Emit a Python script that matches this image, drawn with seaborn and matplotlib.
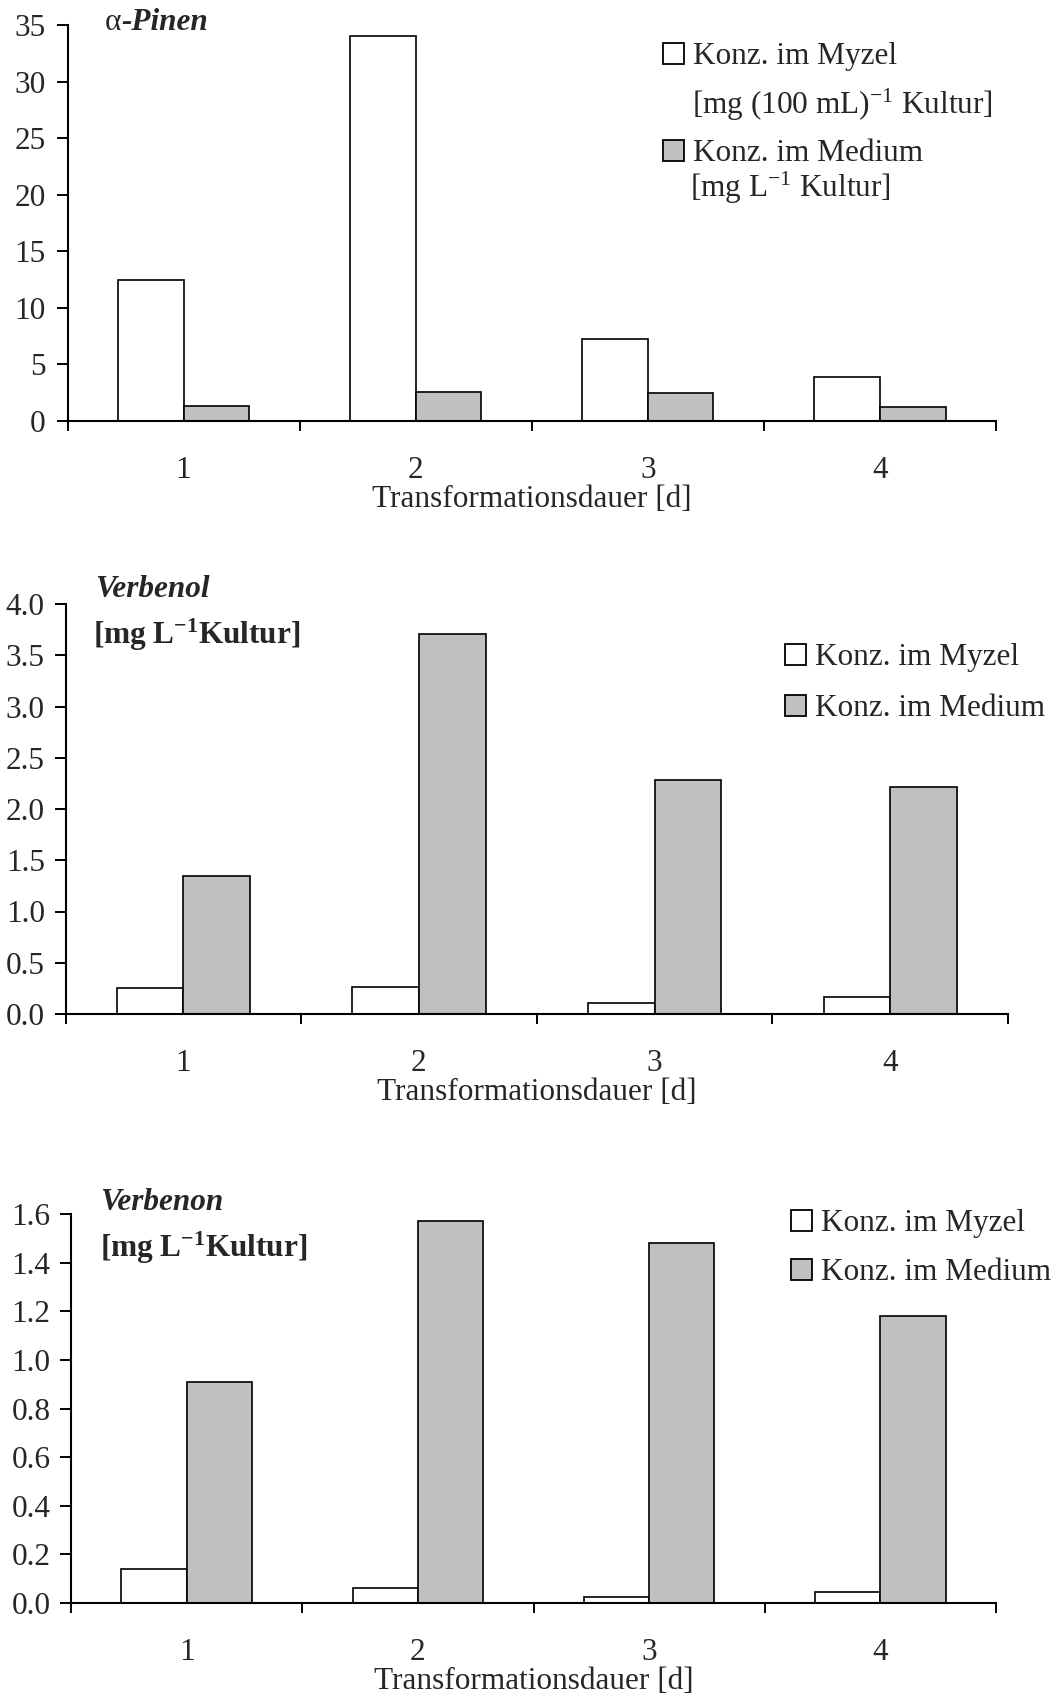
import matplotlib
matplotlib.use('Agg')
import matplotlib.pyplot as plt
import seaborn as sns
import pandas as pd
from matplotlib.patches import Patch

# ---------------- data ----------------
days = ["1", "2", "3", "4"]
series = ["Konz. im Myzel", "Konz. im Medium"]

pinen_myzel = [12.5, 34.0, 7.25, 3.9]
pinen_medium = [1.3, 2.6, 2.45, 1.2]

verbenol_myzel = [0.25, 0.26, 0.11, 0.17]
verbenol_medium = [1.35, 3.71, 2.28, 2.21]

verbenon_myzel = [0.14, 0.06, 0.024, 0.047]
verbenon_medium = [0.91, 1.57, 1.48, 1.18]

xlabel = "Transformationsdauer [d]"

# ---------------- style ----------------
sns.set_style("ticks")
plt.rcParams['font.family'] = ['Liberation Serif', 'DejaVu Serif']
plt.rcParams['mathtext.fontset'] = 'custom'
plt.rcParams['mathtext.rm'] = 'Liberation Serif'
plt.rcParams['mathtext.bf'] = 'Liberation Serif:bold'
plt.rcParams['mathtext.it'] = 'Liberation Serif:italic'

W, H = 1056, 1697
FS = 22.5
fig = plt.figure(figsize=(W / 100, H / 100), dpi=100)

def px_ax(left, right, top, bottom):
    return fig.add_axes([left / W, 1 - bottom / H, (right - left) / W, (bottom - top) / H])

colors = ['white', '#c0c0c0']

def make_panel(ax, myzel, medium, ymax, ystep, fmt, ypad):
    df = pd.DataFrame({
        'Tag': days * 2,
        'Wert': list(myzel) + list(medium),
        'Serie': [series[0]] * 4 + [series[1]] * 4,
    })
    sns.barplot(data=df, x='Tag', y='Wert', hue='Serie', order=days,
                hue_order=series, palette=colors, saturation=1,
                edgecolor='black', linewidth=1.2, width=0.565, gap=0,
                ax=ax, legend=False)
    ax.set_xlim(-0.5, 3.5)
    ax.set_ylim(0, ymax)
    n = int(round(ymax / ystep))
    ticks = [i * ystep for i in range(n + 1)]
    ax.set_yticks(ticks, [fmt.format(t) for t in ticks])
    ax.set_xticks([-0.5, 0.5, 1.5, 2.5, 3.5], minor=True)
    ax.tick_params(axis='x', which='major', length=0, pad=25.5, labelsize=FS)
    ax.tick_params(axis='x', which='minor', length=7.2, width=1.4, direction='out', color='black')
    ax.tick_params(axis='y', which='major', length=7.9, width=1.4, direction='out', pad=ypad,
                   labelsize=FS, color='black')
    ax.set_xlabel(xlabel, fontsize=FS, labelpad=0)
    ax.set_ylabel('')
    sns.despine(ax=ax)
    for s in ['left', 'bottom']:
        ax.spines[s].set_linewidth(1.5)
        ax.spines[s].set_color('black')
    ax.set_facecolor('white')

def add_legend(ax, left, top, spacing):
    handles = [Patch(facecolor=c, edgecolor='black', linewidth=1.3) for c in colors]
    leg = ax.legend(handles, series, loc='upper left',
                    bbox_to_anchor=(left / W, 1 - top / H), bbox_transform=fig.transFigure,
                    frameon=False, fontsize=FS, handlelength=0.66, handleheight=0.66,
                    handletextpad=0.3, labelspacing=spacing, borderpad=0, borderaxespad=0)
    return leg

def ftext(x, y, s, **kw):
    return fig.text(x / W, 1 - y / H, s, va='center', ha='left', fontsize=FS, **kw)

# ---------------- panel 1: alpha-Pinen ----------------
ax1 = px_ax(67.5, 996, 25, 421)
make_panel(ax1, pinen_myzel, pinen_medium, 35, 5, "{:.0f}", 8)
add_legend(ax1, 663, 42, 2.19)
ftext(692, 105, "[mg (100 mL)$^{-1}$ Kultur]")
ftext(690, 188, "[mg L$^{-1}$ Kultur]")
t = ftext(105, 23, "α")
ax1.annotate("-Pinen", xy=(1, 0.5), xycoords=t, va='center', ha='left',
             fontsize=FS, fontweight='bold', fontstyle='italic')

# ---------------- panel 2: Verbenol ----------------
ax2 = px_ax(65.5, 1008, 604, 1014)
make_panel(ax2, verbenol_myzel, verbenol_medium, 4.0, 0.5, "{:.1f}", 7)
add_legend(ax2, 785, 643, 0.71)
ftext(95, 590, "Verbenol", fontweight='bold', fontstyle='italic')
ftext(93, 635, r"[mg L$^{\mathbf{-1}}$Kultur]", fontweight='bold')

# ---------------- panel 3: Verbenon ----------------
ax3 = px_ax(71, 996, 1214, 1603)
make_panel(ax3, verbenon_myzel, verbenon_medium, 1.6, 0.2, "{:.1f}", 7)
add_legend(ax3, 791, 1209, 0.65)
ftext(100, 1203, "Verbenon", fontweight='bold', fontstyle='italic')
ftext(100, 1248, r"[mg L$^{\mathbf{-1}}$Kultur]", fontweight='bold')

fig.savefig("out.png", dpi=100, facecolor='white')
